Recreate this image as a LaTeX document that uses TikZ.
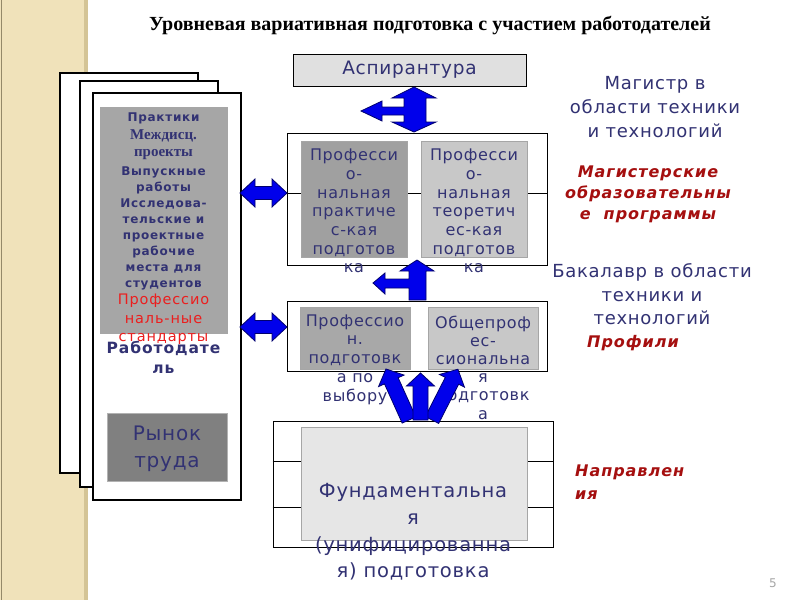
\documentclass[tikz,border=0pt]{standalone}
\usepackage{fontspec}
\setmainfont{DejaVu Sans}
\newfontfamily\vs[LetterSpace=4]{DejaVu Sans}
\newfontfamily\vsl[LetterSpace=6]{DejaVu Sans}
\newfontfamily\tserif{Liberation Serif}
\definecolor{txtblue}{RGB}{50,50,115}
\definecolor{dred}{RGB}{165,15,15}
\definecolor{bred}{RGB}{235,30,30}
\definecolor{arrfill}{RGB}{0,0,235}
\definecolor{arrline}{RGB}{0,0,110}
\definecolor{beige}{RGB}{240,226,186}
\definecolor{beigedark}{RGB}{212,196,150}
\tikzset{
  blk/.style={fill=arrfill,draw=arrline,line width=0.8pt,line join=miter},
  frame/.style={draw=black,line width=1pt,fill=white,inner sep=0pt},
  gbox/.style={draw=gray!70,line width=0.8pt,inner sep=0pt},
  sheet/.style={draw=black,line width=1.1pt,fill=white,inner sep=0pt},
  btxt/.style={text=txtblue,align=center,inner sep=0pt},
  rtxt/.style={text=dred,align=center,inner sep=0pt,font=\vsl\bfseries\itshape\fontsize{16}{21}\selectfont},
}
\newcommand\blkarrow[3]{%
  \draw[blk, shift={#1}, rotate=#2] (0,-7.5) -- ({#3-13},-7.5) -- ({#3-13},-14) -- (#3,0) -- ({#3-13},14) -- ({#3-13},7.5) -- (0,7.5) -- cycle;}
\newcommand\hdbl[1]{%
  \draw[blk] (240,#1) -- (255,{#1-14}) -- (255,{#1-6.5}) -- (272,{#1-6.5}) -- (272,{#1-14}) -- (287,#1) -- (272,{#1+14}) -- (272,{#1+6.5}) -- (255,{#1+6.5}) -- (255,{#1+14}) -- cycle;}
\begin{document}
\begin{tikzpicture}[x=1pt,y=-1pt]
\useasboundingbox (0,0) rectangle (800,600);
\fill[white] (0,0) rectangle (800,600);
% left band
\fill[beige] (0,0) rectangle (87,600);
\fill[beigedark] (84,0) rectangle (88,600);
\draw[beigedark!70!black,line width=1pt] (1.5,0) -- (1.5,600);
% title
\node[font=\tserif\bfseries\fontsize{20}{22}\selectfont] (title) at (430,25) {Уровневая вариативная подготовка с участием работодателей};
% stacked sheets
\node[sheet,minimum width=138,minimum height=400] (sh1) at (129,273) {};
\node[sheet,minimum width=138,minimum height=406] (sh2) at (149,284) {};
\node[sheet,minimum width=148,minimum height=407] (sh3) at (167,296.5) {};
\node[gbox,fill={rgb,255:red,166;green,166;blue,166},minimum width=127,minimum height=226] (emp) at (163.5,220) {};
\node[gbox,draw=gray!60,fill={rgb,255:red,128;green,128;blue,128},minimum width=120,minimum height=68] (market) at (167,447) {};
% sheet texts
\begin{scope}[btxt]
\node[font=\vsl\bfseries\fontsize{12}{14}\selectfont] (t1) at (163.5,118) {Практики};
\node[font=\tserif\bfseries\fontsize{15}{16}\selectfont] (t2) at (163.5,136) {Междисц.};
\node[font=\tserif\bfseries\fontsize{15}{16}\selectfont] (t3) at (163.5,155) {проекты};
\node[font=\vsl\bfseries\fontsize{12}{16}\selectfont] (t4) at (163.5,228) {Выпускные\\работы\\Исследова-\\тельские и\\проектные\\рабочие\\места для\\студентов};
\node[text=bred,font=\vsl\fontsize{14.5}{18.5}\selectfont] (t5) at (163.5,319.5) {Профессио\\наль-ные\\стандарты};
\node[font=\vsl\bfseries\fontsize{15.5}{20}\selectfont] (t6) at (163.5,357) {Работодате\\ль};
\node[font=\vs\fontsize{20}{27}\selectfont] (t7) at (167,448.5) {Рынок\\труда};
\end{scope}
% Aspirantura
\node[frame,fill={rgb,255:red,224;green,224;blue,224},minimum width=233,minimum height=32] (asp) at (409.5,70) {};
\node[btxt,font=\vs\fontsize{18.5}{20}\selectfont] (asptxt) at (asp.center) {Аспирантура};
% master box
\node[frame,minimum width=260,minimum height=132] (mag) at (417,199) {};
\draw[line width=0.8pt] (mag.west |- 0,193) -- (mag.east |- 0,193);
\node[gbox,fill={rgb,255:red,160;green,160;blue,160},minimum width=106,minimum height=116] (mp) at (354,199) {};
\node[gbox,fill={rgb,255:red,200;green,200;blue,200},minimum width=106,minimum height=116] (mt) at (474,199) {};
\node[btxt,font=\vs\fontsize{16}{18.7}\selectfont] (mptxt) at (354,211) {Професси\\о-\\нальная\\практиче\\с-кая\\подготов\\ка};
\node[btxt,font=\vs\fontsize{16}{18.7}\selectfont] (mttxt) at (474,211) {Професси\\о-\\нальная\\теоретич\\ес-кая\\подготов\\ка};
% bachelor box
\node[frame,minimum width=260,minimum height=70] (bak) at (417,336) {};
\node[gbox,fill={rgb,255:red,168;green,168;blue,168},minimum width=110,minimum height=62] (bp) at (355,338) {};
\node[gbox,fill={rgb,255:red,200;green,200;blue,200},minimum width=110,minimum height=62] (bo) at (483,338) {};
\node[btxt,font=\vs\fontsize{16}{18.75}\selectfont] (bptxt) at (355,359.5) {Профессио\\н.\\подготовк\\а по\\выбору};
\node[btxt,font=\vs\fontsize{16}{18.2}\selectfont] (botxt) at (483,367.5) {Общепроф\\ес-\\сиональна\\я\\подготовк\\а};
% fundamental box
\node[frame,minimum width=280,minimum height=126] (fund) at (413,484) {};
\draw[line width=0.8pt] (fund.west |- 0,461) -- (fund.east |- 0,461);
\draw[line width=0.8pt] (fund.west |- 0,507) -- (fund.east |- 0,507);
\node[gbox,fill={rgb,255:red,230;green,230;blue,230},minimum width=226,minimum height=113] (fin) at (414,483.5) {};
\node[btxt,font=\vs\fontsize{19.5}{26.7}\selectfont] (fundtxt) at (413,532) {Фундаментальна\\я\\(унифицированна\\я) подготовка};
% right texts
\node[btxt,font=\vs\fontsize{18}{24}\selectfont] (magtxt) at (655,107) {Магистр в\\области техники\\и технологий};
\node[rtxt] (magprog) at (648,194) {Магистерские\\образовательны\\е~~программы};
\node[btxt,font=\vs\fontsize{18}{23.5}\selectfont] (baktxt) at (652,294.5) {Бакалавр в области\\техники и\\технологий};
\node[rtxt] (prof) at (633,343) {Профили};
\node[rtxt,align=left,anchor=west,font=\vsl\bfseries\itshape\fontsize{16}{23}\selectfont] (napr) at (575,482.5) {Направлен\\ия};
\node[text=gray!70,font=\fontsize{12}{14}\selectfont] (pg) at (773,583) {5};
% arrows
\draw[blk] (414,87) -- (436,98) -- (426,98) -- (426,122) -- (436,122) -- (414,132) -- (392,122) -- (404,122) -- (404,115) -- (382,115) -- (382,121) -- (361,111) -- (382,101) -- (382,107) -- (404,107) -- (404,98) -- (392,98) -- cycle;
\draw[blk] (417,260) -- (434,271) -- (426,271) -- (426,300) -- (409,300) -- (409,288) -- (385,288) -- (385,294) -- (373,283) -- (385,273) -- (385,279) -- (409,279) -- (409,271) -- (400,271) -- cycle;
\hdbl{193}
\hdbl{327}
\coordinate (bl) at (409,420);
\coordinate (bc) at (420.5,420);
\coordinate (br) at (432,420);
\blkarrow{(bl)}{114.3}{56}
\blkarrow{(br)}{63}{57}
\blkarrow{(bc)}{90}{47}
\end{tikzpicture}
\end{document}
